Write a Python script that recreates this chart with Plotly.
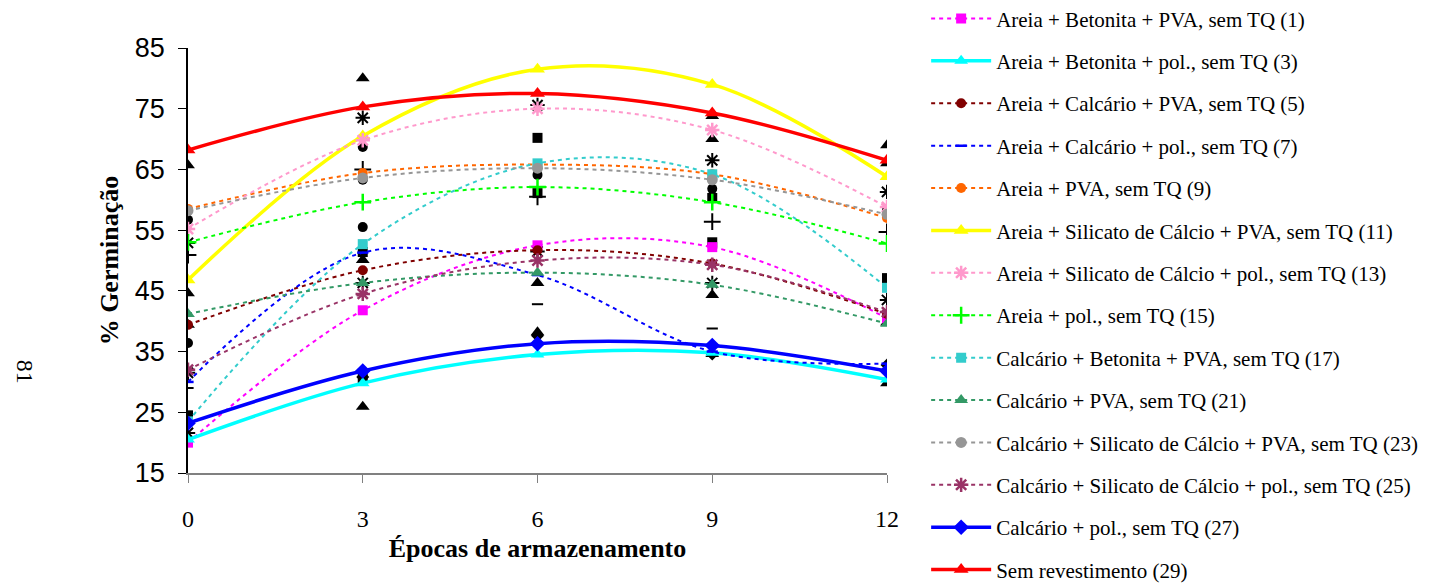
import plotly.graph_objects as go

x_epocas = [0, 3, 6, 9, 12]

nomes = [
    "Areia + Betonita + PVA, sem TQ (1)",
    "Areia + Betonita + pol., sem TQ (3)",
    "Areia + Calcário + PVA, sem TQ (5)",
    "Areia + Calcário + pol., sem TQ (7)",
    "Areia + PVA, sem TQ (9)",
    "Areia + Silicato de Cálcio + PVA, sem TQ (11)",
    "Areia + Silicato de Cálcio + pol., sem TQ (13)",
    "Areia + pol., sem TQ (15)",
    "Calcário + Betonita + PVA, sem TQ (17)",
    "Calcário + PVA, sem TQ (21)",
    "Calcário + Silicato de Cálcio + PVA, sem TQ (23)",
    "Calcário + Silicato de Cálcio + pol., sem TQ (25)",
    "Calcário + pol., sem TQ (27)",
    "Sem revestimento (29)",
]

s1 = [20.0, 41.8, 52.5, 52.2, 40.5]
s3 = [20.5, 29.8, 34.5, 34.8, 30.4]
s5 = [39.4, 48.4, 51.7, 49.5, 41.2]
s7 = [30.0, 51.3, 47.6, 35.0, 33.0]
s9 = [58.5, 64.4, 65.8, 64.2, 57.0]
s11 = [46.8, 70.5, 81.5, 79.0, 63.8]
s13 = [55.2, 69.8, 75.0, 71.5, 58.8]
s15 = [53.0, 59.6, 62.1, 59.6, 52.8]
s17 = [23.5, 52.7, 66.0, 64.2, 45.5]
s21 = [41.2, 46.3, 48.0, 46.0, 39.6]
s23 = [58.2, 63.6, 65.2, 63.3, 57.6]
s25 = [32.0, 44.5, 50.0, 49.3, 41.5]
s27 = [23.2, 31.8, 36.3, 36.0, 31.8]
s29 = [68.2, 75.3, 77.5, 74.3, 66.5]

# observed values (black markers), grouped by marker shape
obs_tri_x = [0, 0, 0, 3, 3, 3, 6, 6, 9, 9, 9, 9, 12, 12, 12, 12]
obs_tri_y = [65.7, 44.6, 39.4, 80.0, 50.1, 25.9, 46.3, 38.2, 73.8, 70.0, 44.3, 34.6, 69.0, 66.0, 39.8, 29.8]
obs_sq_x = [0, 3, 3, 6, 6, 9, 9, 12]
obs_sq_y = [24.5, 51.4, 30.6, 70.2, 61.1, 60.3, 53.0, 47.1]
obs_circ_x = [0, 0, 3, 3, 3, 6, 9, 12]
obs_circ_y = [56.7, 36.4, 68.7, 63.3, 55.5, 64.1, 61.8, 58.3]
obs_ast_x = [0, 0, 0, 3, 3, 6, 6, 9, 9, 12, 12]
obs_ast_y = [52.9, 31.5, 21.6, 73.5, 46.3, 75.6, 51.5, 66.5, 46.3, 61.3, 43.5]
obs_plus_x = [0, 3, 6, 9, 12]
obs_plus_y = [50.9, 65.0, 60.5, 56.4, 54.7]
obs_dash_x = [0, 6, 9]
obs_dash_y = [29.0, 42.8, 38.8]
obs_dia_x = [3, 6, 9, 12]
obs_dia_y = [30.8, 37.6, 34.6, 32.8]

series = [s1, s3, s5, s7, s9, s11, s13, s15, s17, s21, s23, s25, s27, s29]

estilos = [
    dict(color="#FF00FF", solid=False, symbol="square", size=10),
    dict(color="#00FFFF", solid=True, symbol="triangle-up", size=12),
    dict(color="#800000", solid=False, symbol="circle", size=10),
    dict(color="#0000FF", solid=False, symbol="line-ew", size=8),
    dict(color="#FF6600", solid=False, symbol="circle", size=10),
    dict(color="#FFFF00", solid=True, symbol="triangle-up", size=13),
    dict(color="#FF99CC", solid=False, symbol="asterisk-open", size=12),
    dict(color="#00FF00", solid=False, symbol="cross-thin-open", size=12),
    dict(color="#33CCCC", solid=False, symbol="square", size=10),
    dict(color="#339966", solid=False, symbol="triangle-up", size=12),
    dict(color="#969696", solid=False, symbol="circle", size=11),
    dict(color="#993366", solid=False, symbol="asterisk-open", size=12),
    dict(color="#0000FF", solid=True, symbol="diamond", size=12),
    dict(color="#FF0000", solid=True, symbol="triangle-up", size=13),
]

fig = go.Figure()

# black observed markers (drawn first, underneath)
obs_sets = [
    (obs_tri_x, obs_tri_y, "triangle-up", 12),
    (obs_sq_x, obs_sq_y, "square", 10),
    (obs_circ_x, obs_circ_y, "circle", 10),
    (obs_ast_x, obs_ast_y, "asterisk-open", 12),
    (obs_plus_x, obs_plus_y, "cross-thin-open", 12),
    (obs_dash_x, obs_dash_y, "line-ew", 8),
    (obs_dia_x, obs_dia_y, "diamond", 10),
]
for ox, oy, sym, sz in obs_sets:
    fig.add_trace(go.Scatter(
        x=ox, y=oy, mode="markers", showlegend=False, hoverinfo="skip",
        marker=dict(symbol=sym, size=sz, color="black",
                    line=dict(color="black", width=2 if "open" in sym or sym == "line-ew" else 0)),
    ))

for i, (nome, ys, st) in enumerate(zip(nomes, series, estilos)):
    open_sym = "open" in st["symbol"] or st["symbol"] == "line-ew"
    fig.add_trace(go.Scatter(
        x=x_epocas, y=ys, name=nome, mode="lines+markers",
        legendgroup=f"g{i}",
        line=dict(color=st["color"], width=3.5 if st["solid"] else 2,
                  shape="spline", smoothing=1.0,
                  dash="solid" if st["solid"] else "4px,4px"),
        marker=dict(symbol=st["symbol"], size=st["size"], color=st["color"],
                    line=dict(color=st["color"], width=2.5 if open_sym else 0)),
    ))

serif = "Liberation Serif, Times New Roman, serif"
sans = "Liberation Sans, Arial, sans-serif"

fig.update_layout(
    width=1450, height=586,
    margin=dict(l=180, r=571, t=40, b=121, autoexpand=False),
    paper_bgcolor="white", plot_bgcolor="white",
    showlegend=True,
    legend=dict(
        x=1.056, xanchor="left", y=1.117, yanchor="top",
        font=dict(family=serif, size=21, color="black"),
        tracegroupgap=12.1, itemwidth=60, maxheight=900,
        bgcolor="rgba(0,0,0,0)",
    ),
    xaxis=dict(
        range=[0, 12], tickvals=x_epocas, ticktext=[str(v) for v in x_epocas],
        showline=True, linecolor="#808080", linewidth=1.5,
        ticks="outside", ticklen=8, tickcolor="#808080",
        showgrid=False, zeroline=False, automargin=False,
        tickfont=dict(family=serif, size=24, color="black"),
        ticklabelstandoff=15,
        title=dict(text="<b>Épocas de armazenamento</b>",
                   font=dict(family=serif, size=26, color="black"), standoff=8),
    ),
    yaxis=dict(
        range=[15, 85], tickvals=[15, 25, 35, 45, 55, 65, 75, 85],
        showline=True, linecolor="black", linewidth=1.5,
        ticks="outside", ticklen=8, tickcolor="black",
        showgrid=False, zeroline=False, automargin=False,
        tickfont=dict(family=sans, size=27, color="black"),
        ticklabelstandoff=8,
        title=dict(text="<b>% Germinação</b>",
                   font=dict(family=serif, size=26, color="black"), standoff=9),
    ),
    annotations=[
        dict(text="81", xref="paper", yref="paper",
             x=-0.233, y=0.238, xanchor="center", yanchor="middle",
             textangle=90, showarrow=False,
             font=dict(family=serif, size=24, color="black")),
    ],
)

fig.write_html("out.html")
